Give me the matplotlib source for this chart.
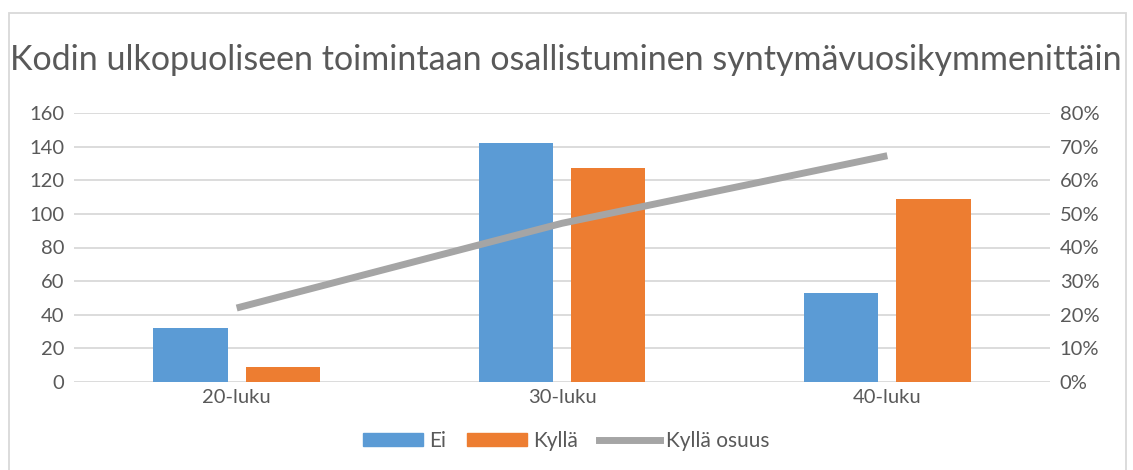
import matplotlib
matplotlib.use("Agg")
import matplotlib.pyplot as plt
import numpy as np
from matplotlib.patches import Rectangle, Patch
from matplotlib.lines import Line2D
from matplotlib.ticker import FuncFormatter

plt.rcParams['font.family'] = ['Lato', 'DejaVu Sans']

categories = ["20-luku", "30-luku", "40-luku"]
ei = [32, 142, 53]
kylla = [9, 127, 109]
kylla_osuus = [0.22, 0.472, 0.673]

TXT = "#595959"
GRID = "#d9d9d9"
C_EI = "#5B9BD5"
C_KY = "#ED7D31"
C_LINE = "#A5A5A5"
FS = 14.5

fig = plt.figure(figsize=(11.33, 4.70), dpi=100)
W, H = 1133, 470
ax = fig.add_axes([74/W, 1-382/H, (1050-74)/W, (382-113)/H])

x = np.arange(len(categories))
bw = 0.228
off = 0.142
ax.bar(x - off, ei, bw, color=C_EI, zorder=3)
ax.bar(x + off, kylla, bw, color=C_KY, zorder=3)
ax.set_xlim(-0.5, 2.5)
ax.set_ylim(0, 160)
ax.set_yticks(np.arange(0, 161, 20))
ax.grid(axis='y', color=GRID, linewidth=1.3, zorder=0)
ax.set_axisbelow(True)
for s in ax.spines.values():
    s.set_visible(False)
ax.set_xticks(x)
ax.set_xticklabels(categories)
ax.tick_params(axis='both', length=0, labelsize=FS, colors=TXT)
ax.tick_params(axis='x', pad=5)
ax.tick_params(axis='y', pad=7)

ax2 = ax.twinx()
ax2.plot(x, kylla_osuus, color=C_LINE, linewidth=5, solid_capstyle='butt', zorder=4)
ax2.set_ylim(0, 0.8)
ax2.set_yticks(np.arange(0, 0.81, 0.1))
ax2.yaxis.set_major_formatter(FuncFormatter(lambda v, p: f"{v*100:.0f}%"))
for s in ax2.spines.values():
    s.set_visible(False)
ax2.tick_params(axis='y', length=0, labelsize=FS, colors=TXT, pad=7)

fig.text(566/W, 1-60/H, "Kodin ulkopuoliseen toimintaan osallistuminen syntymävuosikymmenittäin",
         ha='center', va='center', fontsize=24.5, color=TXT)

handles = [Patch(color=C_EI), Patch(color=C_KY), Line2D([], [], color=C_LINE, linewidth=5)]
fig.legend(handles, ["Ei", "Kyllä", "Kyllä osuus"], loc='center', bbox_to_anchor=(566/W, 1-441/H),
           ncol=3, frameon=False, fontsize=15, labelcolor=TXT, handlelength=2.9, handleheight=0.6,
           columnspacing=1.0, handletextpad=0.3)

fig.patches.append(Rectangle((9/W, -0.05), (1126-9)/W, 1-13/H+0.05, transform=fig.transFigure,
                             fill=False, edgecolor=GRID, linewidth=1.3, zorder=0))

fig.savefig("out.png", dpi=100)
